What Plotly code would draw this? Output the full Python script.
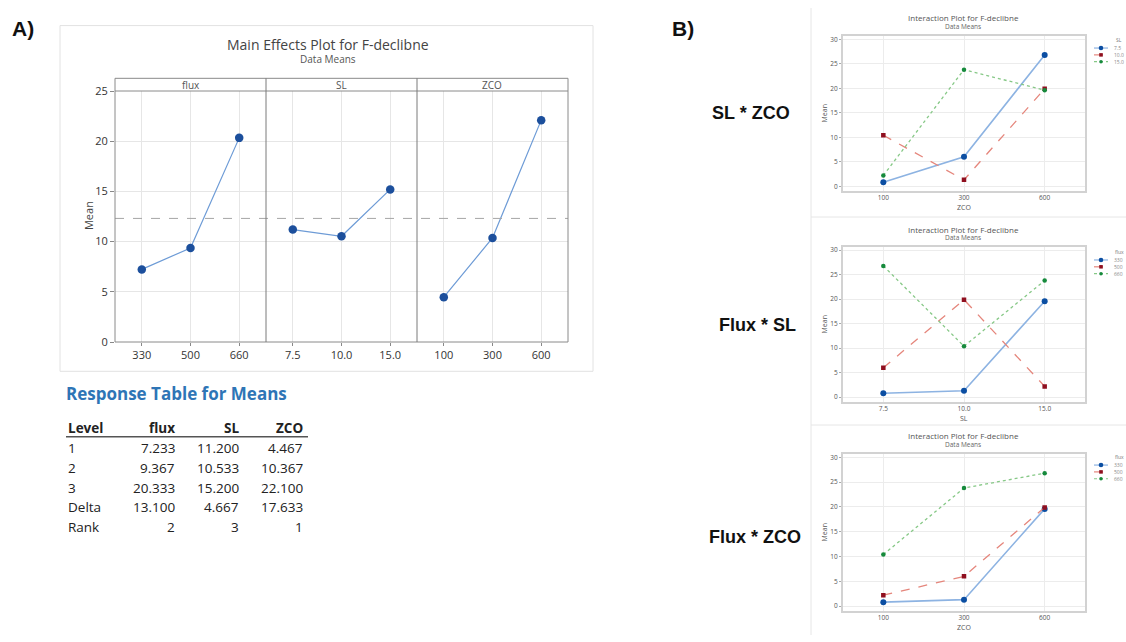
import plotly.graph_objects as go

W, H = 1126, 642


def fx(x):
    return x / W


def fy(y):
    return 1 - y / H


# ---------------- data ----------------
flux_levels = ["330", "500", "660"]
sl_levels = ["7.5", "10.0", "15.0"]
zco_levels = ["100", "300", "600"]

flux_means = [7.233, 9.367, 20.333]
sl_means = [11.200, 10.533, 15.200]
zco_means = [4.467, 10.367, 22.100]
delta_vals = [13.100, 4.667, 17.633]
rank_vals = [2, 3, 1]
table_rows = ["1", "2", "3", "Delta", "Rank"]
table_cols = ["flux", "SL", "ZCO"]

# Interaction SL * ZCO (x = ZCO, series = SL)
slzco_sl_7_5 = [0.8, 6.0, 26.8]
slzco_sl_10_0 = [10.4, 1.3, 19.9]
slzco_sl_15_0 = [2.2, 23.8, 19.6]

# Interaction flux * SL (x = SL, series = flux)
fluxsl_330 = [0.8, 1.3, 19.6]
fluxsl_500 = [6.0, 19.9, 2.2]
fluxsl_660 = [26.8, 10.4, 23.8]

# Interaction flux * ZCO (x = ZCO, series = flux)
fluxzco_330 = [0.8, 1.3, 19.6]
fluxzco_500 = [2.2, 6.0, 19.9]
fluxzco_660 = [10.4, 23.8, 26.8]

# ---------------- styles ----------------
FONT = "Open Sans"
ME_MARK = "#1c4f9c"
ME_LINE = "#6d9bd6"
S_STYLES = [
    dict(mcolor="#0b4ea2", lcolor="#8db3e2", dash="solid", symbol="circle", msize=6, lw=1.6),
    dict(mcolor="#8f0f1f", lcolor="#e5867c", dash="dash", symbol="square", msize=4.5, lw=1.3),
    dict(mcolor="#168a3c", lcolor="#86c886", dash="dot", symbol="circle", msize=4.5, lw=1.3),
]

fig = go.Figure()

# ---------------- main effects ----------------
me_panels = [
    ("x", flux_levels, flux_means, 115, 266),
    ("x2", sl_levels, sl_means, 266, 417),
    ("x3", zco_levels, zco_means, 417, 568),
]
for ax, lv, mv, x0, x1 in me_panels:
    fig.add_trace(go.Scatter(
        x=lv, y=mv, xaxis=ax, yaxis="y", mode="lines+markers",
        line=dict(color=ME_LINE, width=1.2),
        marker=dict(color=ME_MARK, size=8.5, symbol="circle"),
        showlegend=False, hoverinfo="x+y"))

ax_common = dict(type="category", range=[-0.55, 2.55], showgrid=True, gridcolor="#e6e6e6",
                 gridwidth=1, ticks="outside", ticklen=3, tickcolor="#888",
                 tickfont=dict(family=FONT, size=11, color="#333"), showline=False,
                 zeroline=False, fixedrange=True)
layout = dict(
    xaxis=dict(domain=[fx(115), fx(266)], anchor="y", **ax_common),
    xaxis2=dict(domain=[fx(266), fx(417)], anchor="y", **ax_common),
    xaxis3=dict(domain=[fx(417), fx(568)], anchor="y", **ax_common),
    yaxis=dict(domain=[fy(342), fy(85)], anchor="x", range=[0, 25],
               tickvals=[0, 5, 10, 15, 20, 25], showgrid=True, gridcolor="#e6e6e6",
               ticks="outside", ticklen=4, tickcolor="#888", showline=False, zeroline=False,
               tickfont=dict(family=FONT, size=11, color="#333"), fixedrange=True),
)

grand_mean = sum(flux_means) / len(flux_means)

shapes = []
annotations = []

# panel A outer border
shapes.append(dict(type="rect", xref="paper", yref="paper", x0=fx(60), x1=fx(593),
                   y0=fy(372), y1=fy(18), line=dict(color="#e2e2e2", width=1)))
# grand mean dashed line
shapes.append(dict(type="line", xref="paper", yref="y", x0=fx(115), x1=fx(568),
                   y0=grand_mean, y1=grand_mean, line=dict(color="#a5a5a5", width=1, dash="dash")))
# frame + strip
shapes.append(dict(type="rect", xref="paper", yref="paper", x0=fx(115), x1=fx(568),
                   y0=fy(342), y1=fy(72), line=dict(color="#8a8a8a", width=1)))
shapes.append(dict(type="line", xref="paper", yref="paper", x0=fx(115), x1=fx(568),
                   y0=fy(85), y1=fy(85), line=dict(color="#8a8a8a", width=1)))
for xd in (266, 417):
    shapes.append(dict(type="line", xref="paper", yref="paper", x0=fx(xd), x1=fx(xd),
                       y0=fy(342), y1=fy(72), line=dict(color="#7a7a7a", width=1)))
for name, xc in (("flux", 190.5), ("SL", 341.5), ("ZCO", 492.5)):
    annotations.append(dict(text=name, xref="paper", yref="paper", x=fx(xc), y=fy(78.5),
                            showarrow=False, xanchor="center", yanchor="middle",
                            font=dict(family=FONT, size=10, color="#555")))

annotations += [
    dict(text="<b>A)</b>", xref="paper", yref="paper", x=fx(10), y=fy(21), showarrow=False,
         xanchor="left", yanchor="middle", font=dict(family="Liberation Sans", size=21, color="#111")),
    dict(text="Main Effects Plot for F-declibne", xref="paper", yref="paper", x=fx(328), y=fy(37),
         showarrow=False, xanchor="center", yanchor="middle",
         font=dict(family=FONT, size=14, color="#444")),
    dict(text="Data Means", xref="paper", yref="paper", x=fx(328), y=fy(52), showarrow=False,
         xanchor="center", yanchor="middle", font=dict(family=FONT, size=10, color="#555")),
    dict(text="Mean", xref="paper", yref="paper", x=fx(88), y=fy(213), showarrow=False,
         textangle=-90, xanchor="center", yanchor="middle",
         font=dict(family=FONT, size=11, color="#444")),
]

# ---------------- response table ----------------
annotations.append(dict(text="<b>Response Table for Means</b>", xref="paper", yref="paper",
                        x=fx(64), y=fy(395), showarrow=False, xanchor="left", yanchor="middle",
                        font=dict(family=FONT, size=17, color="#2e75b6")))
col_right = [177, 241, 305]
TF = dict(family=FONT, size=13.5, color="#222")
annotations.append(dict(text="<b>Level</b>", xref="paper", yref="paper", x=fx(66), y=fy(430),
                        showarrow=False, xanchor="left", yanchor="middle", font=TF))
for c, xr in zip(table_cols, col_right):
    annotations.append(dict(text=f"<b>{c}</b>", xref="paper", yref="paper", x=fx(xr), y=fy(430),
                            showarrow=False, xanchor="right", yanchor="middle", font=TF))
shapes.append(dict(type="line", xref="paper", yref="paper", x0=fx(66), x1=fx(308),
                   y0=fy(439), y1=fy(439), line=dict(color="#555", width=1.6)))
cols = [flux_means, sl_means, zco_means]
row_y = [451, 471, 491, 511, 531]
for ri, (rname, yy) in enumerate(zip(table_rows, row_y)):
    annotations.append(dict(text=rname, xref="paper", yref="paper", x=fx(66), y=fy(yy),
                            showarrow=False, xanchor="left", yanchor="middle", font=TF))
    for ci, xr in enumerate(col_right):
        if ri < 3:
            txt = f"{cols[ci][ri]:.3f}"
        elif ri == 3:
            txt = f"{delta_vals[ci]:.3f}"
        else:
            txt = f"{rank_vals[ci]}"
        annotations.append(dict(text=txt, xref="paper", yref="paper", x=fx(xr), y=fy(yy),
                                showarrow=False, xanchor="right", yanchor="middle", font=TF))

# ---------------- interaction plots ----------------
annotations.append(dict(text="<b>B)</b>", xref="paper", yref="paper", x=fx(670), y=fy(21), showarrow=False,
                        xanchor="left", yanchor="middle",
                        font=dict(family="Liberation Sans", size=21, color="#111")))
for txt, xc, yc in (("SL * ZCO", 751, 108), ("Flux * SL", 757, 325), ("Flux * ZCO", 755, 542)):
    annotations.append(dict(text=f"<b>{txt}</b>", xref="paper", yref="paper", x=fx(xc), y=fy(yc),
                            showarrow=False, xanchor="center", yanchor="middle",
                            font=dict(family="Liberation Sans", size=18, color="#111")))

# separators of panel B
shapes.append(dict(type="line", xref="paper", yref="paper", x0=fx(811), x1=fx(811), y0=0, y1=1,
                   line=dict(color="#e6e6e6", width=1)))
for yy in (214, 427):
    shapes.append(dict(type="line", xref="paper", yref="paper", x0=fx(811), x1=1, y0=fy(yy), y1=fy(yy),
                       line=dict(color="#e6e6e6", width=1)))

inter = [
    # axis idx, x levels, series list, series labels, legend title, x title, frame top, frame bottom,
    # title y, subtitle y, xtitle y, legend top y
    (4, zco_levels, [slzco_sl_7_5, slzco_sl_10_0, slzco_sl_15_0], sl_levels, "SL", "ZCO",
     29, 187, 10, 19, 204, 33),
    (5, sl_levels, [fluxsl_330, fluxsl_500, fluxsl_660], flux_levels, "flux", "SL",
     245, 403, 227, 235, 420, 250),
    (6, zco_levels, [fluxzco_330, fluxzco_500, fluxzco_660], flux_levels, "flux", "ZCO",
     457, 617, 438, 447, 634, 460),
]
SF = dict(family=FONT, size=6.5, color="#555")
for idx, xl, series, labels, ltitle, xtitle, ftop, fbot, ty, sty, xty, lty in inter:
    xa, ya = f"x{idx}", f"y{idx}"
    for s, st in zip(series, S_STYLES):
        fig.add_trace(go.Scatter(
            x=xl, y=s, xaxis=xa, yaxis=ya, mode="lines+markers",
            line=dict(color=st["lcolor"], width=st["lw"], dash=st["dash"]),
            marker=dict(color=st["mcolor"], size=st["msize"], symbol=st["symbol"]),
            showlegend=False))
    layout[f"xaxis{idx}"] = dict(domain=[fx(843), fx(1085)], anchor=ya, type="category",
                                 range=[-0.5, 2.5], showgrid=True, gridcolor="#ececec",
                                 showline=True, mirror=True, linecolor="#d2d2d2", linewidth=2,
                                 ticks="", tickfont=SF, zeroline=False, fixedrange=True)
    layout[f"yaxis{idx}"] = dict(domain=[fy(fbot), fy(ftop)], anchor=xa,
                                 range=[-0.9, 30.6], tickvals=[0, 5, 10, 15, 20, 25, 30],
                                 showgrid=True, gridcolor="#ececec", showline=True, mirror=True,
                                 linecolor="#d2d2d2", linewidth=2, ticks="outside", ticklen=2,
                                 tickcolor="#aaa", tickfont=SF, zeroline=False, fixedrange=True)
    annotations += [
        dict(text="Interaction Plot for F-declibne", xref="paper", yref="paper", x=fx(963), y=fy(ty),
             showarrow=False, xanchor="center", yanchor="middle",
             font=dict(family=FONT, size=8, color="#555")),
        dict(text="Data Means", xref="paper", yref="paper", x=fx(963), y=fy(sty),
             showarrow=False, xanchor="center", yanchor="middle",
             font=dict(family=FONT, size=6.5, color="#666")),
        dict(text=xtitle, xref="paper", yref="paper", x=fx(964), y=fy(xty), showarrow=False,
             xanchor="center", yanchor="middle", font=dict(family=FONT, size=7, color="#555")),
        dict(text="Mean", xref="paper", yref="paper", x=fx(824), y=fy((ftop + fbot) / 2),
             showarrow=False, textangle=-90, xanchor="center", yanchor="middle",
             font=dict(family=FONT, size=7, color="#555")),
        dict(text=ltitle, xref="paper", yref="paper", x=fx(1119), y=fy(lty), showarrow=False,
             xanchor="center", yanchor="middle", font=dict(family=FONT, size=5, color="#777")),
    ]
    for k, (lab, st) in enumerate(zip(labels, S_STYLES)):
        yk = lty + 8 + 7 * k
        shapes.append(dict(type="line", xref="paper", yref="paper", x0=fx(1094), x1=fx(1108),
                           y0=fy(yk), y1=fy(yk),
                           line=dict(color=st["lcolor"], width=1.2, dash=st["dash"])))
        r = 2.3 if k == 0 else 1.8
        shapes.append(dict(type="circle" if k != 1 else "rect", xref="paper", yref="paper",
                           x0=fx(1101 - r), x1=fx(1101 + r), y0=fy(yk + r), y1=fy(yk - r),
                           fillcolor=st["mcolor"], line=dict(color=st["mcolor"], width=0)))
        annotations.append(dict(text=lab, xref="paper", yref="paper", x=fx(1112), y=fy(yk),
                                showarrow=False, xanchor="left", yanchor="middle",
                                font=dict(family=FONT, size=5, color="#888")))

fig.update_layout(
    width=W, height=H, margin=dict(l=0, r=0, t=0, b=0),
    paper_bgcolor="white", plot_bgcolor="white",
    showlegend=False, shapes=shapes, annotations=annotations,
    font=dict(family=FONT),
    **layout,
)

fig.write_html("out.html", config={"displayModeBar": False})
